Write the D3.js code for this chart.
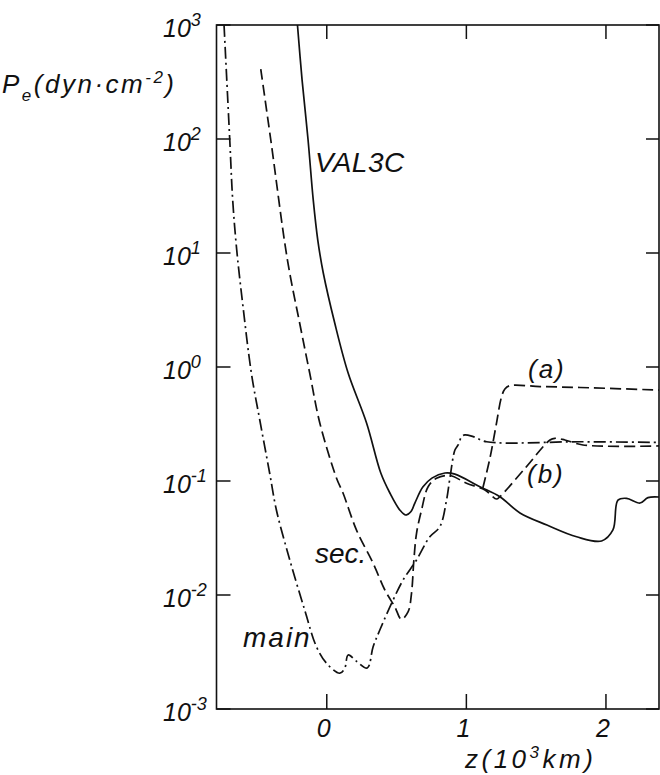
<!doctype html>
<html lang="en">
  <head>
    <meta charset="utf-8">
    <title>Pe versus z</title>
    <style>
      body { margin: 0; background: #fff; }
      svg { display: block; }
      text { font-family: "Liberation Sans", Arial, sans-serif; font-style: italic; fill: #111; }
    </style>
    <script src="https://cdn.jsdelivr.net/npm/d3@7"></script>
  </head>
  <body>
    <div id="chart"></div>
    <script>
      // values: z in 10^3 km, Pe in dyn cm^-2
      const valZ = [-0.21, -0.177, -0.134, -0.097, -0.0645, -0.025, 0.057, 0.153, 0.285, 0.387, 0.452, 0.523, 0.566, 0.602, 0.631, 0.688, 0.753, 0.846, 0.918, 1.097, 1.24, 1.384, 1.577, 1.79, 1.969, 2.05, 2.086, 2.148, 2.244, 2.301, 2.38];
      const valP = [1000, 330, 98, 29.2, 13.0, 6.68, 2.43, 0.885, 0.323, 0.1175, 0.0785, 0.0557, 0.0503, 0.0537, 0.0641, 0.0885, 0.106, 0.1175, 0.115, 0.0891, 0.0728, 0.0525, 0.0411, 0.0324, 0.0298, 0.0372, 0.068, 0.0705, 0.0641, 0.0715, 0.0724];

      // sec. run, continuing into branch (b)
      const secZ = [-0.473, -0.401, -0.282, -0.194, -0.122, -0.05, 0.07, 0.117, 0.213, 0.332, 0.416, 0.487, 0.535, 0.583, 0.607, 0.624, 0.643, 0.679, 0.726, 0.786, 0.882, 1.001, 1.133, 1.216, 1.24, 1.42, 1.599, 1.634, 1.706, 1.835, 2.38];
      const secP = [411, 98, 8.7, 2.42, 0.881, 0.323, 0.1057, 0.078, 0.0371, 0.019, 0.01106, 0.00789, 0.00612, 0.00714, 0.01035, 0.0203, 0.0348, 0.0557, 0.0891, 0.1057, 0.1117, 0.0955, 0.0834, 0.0695, 0.0728, 0.129, 0.229, 0.237, 0.229, 0.207, 0.203];

      // branch (a) leaving the sec. run
      const secAZ = [1.118, 1.168, 1.211, 1.252, 1.276, 1.312, 1.527, 1.814, 2.38];
      const secAP = [0.0869, 0.157, 0.298, 0.548, 0.641, 0.686, 0.674, 0.661, 0.628];

      const mainZ = [-0.736, -0.695, -0.674, -0.645, -0.6, -0.54, -0.48, -0.409, -0.361, -0.265, -0.158, -0.074, -0.002, 0.093, 0.129, 0.153, 0.215, 0.29, 0.332, 0.38, 0.475, 0.547, 0.643, 0.738, 0.81, 0.858, 0.882, 0.918, 0.941, 0.966, 0.989, 1.049, 1.145, 1.814, 2.38];
      const mainP = [1000, 98, 29.2, 10.6, 3.38, 0.881, 0.343, 0.117, 0.0557, 0.0203, 0.00738, 0.00352, 0.00252, 0.00206, 0.00228, 0.00298, 0.00261, 0.00229, 0.00352, 0.00493, 0.00904, 0.01355, 0.0203, 0.0324, 0.0397, 0.068, 0.1057, 0.187, 0.207, 0.245, 0.254, 0.245, 0.221, 0.221, 0.218];

      const yTickExps = [3, 2, 1, 0, -1, -2, -3];
      const xTicks = [0, 1, 2];

      const width = 660, height = 775;
      const plot = { left: 216.5, right: 659, top: 25, bottom: 709 };

      const x = d3.scaleLinear().domain([-0.79, 2.38]).range([plot.left, plot.right]);
      const y = d3.scaleLog().domain([1e-3, 1e3]).range([plot.bottom, plot.top]);

      const svg = d3.select("#chart").append("svg")
        .attr("width", width).attr("height", height);

      // frame: left, top, bottom and right lines
      svg.append("rect")
        .attr("x", plot.left).attr("y", plot.top)
        .attr("width", plot.right - plot.left).attr("height", plot.bottom - plot.top)
        .attr("fill", "none").attr("stroke", "#111").attr("stroke-width", 1.6);

      // inward ticks
      const ticks = svg.append("g").attr("stroke", "#111").attr("stroke-width", 1.5);
      yTickExps.forEach((e) => {
        const yy = y(Math.pow(10, e));
        ticks.append("line").attr("x1", plot.left).attr("x2", plot.left + 14).attr("y1", yy).attr("y2", yy);
        ticks.append("line").attr("x1", plot.right - 13).attr("x2", plot.right).attr("y1", yy).attr("y2", yy);
      });
      xTicks.forEach((t) => {
        ticks.append("line").attr("x1", x(t)).attr("x2", x(t)).attr("y1", plot.bottom).attr("y2", plot.bottom - 15);
        ticks.append("line").attr("x1", x(t)).attr("x2", x(t)).attr("y1", plot.top).attr("y2", plot.top + 14);
      });

      // y tick labels 10^n
      yTickExps.forEach((e) => {
        const t = svg.append("text")
          .attr("x", 163).attr("y", y(Math.pow(10, e)) + 12)
          .attr("font-size", 25);
        t.append("tspan").text("10");
        t.append("tspan").attr("font-size", 18).attr("dy", -11).text(String(e));
      });

      // x tick labels
      xTicks.forEach((t) => {
        svg.append("text")
          .attr("x", x(t) - 3).attr("y", 737)
          .attr("text-anchor", "middle").attr("font-size", 25)
          .text(String(t));
      });

      // axis titles
      const yt = svg.append("text").attr("x", 2).attr("y", 93)
        .attr("font-size", 26).attr("letter-spacing", 2.5);
      yt.append("tspan").text("P");
      yt.append("tspan").attr("font-size", 17).attr("dy", 8).text("e");
      yt.append("tspan").attr("dy", -8).text("(dyn\u00b7cm");
      yt.append("tspan").attr("font-size", 17).attr("dy", -10).text("-2");
      yt.append("tspan").attr("dy", 10).text(")");

      const xt = svg.append("text").attr("x", 465).attr("y", 768)
        .attr("font-size", 26).attr("letter-spacing", 3.5);
      xt.append("tspan").text("z(10");
      xt.append("tspan").attr("font-size", 17).attr("dy", -10).text("3");
      xt.append("tspan").attr("dy", 10).text("km)");

      // curves
      const line = d3.line()
        .x((d) => x(d[0]))
        .y((d) => y(d[1]))
        .curve(d3.curveCatmullRom.alpha(0.5));

      const series = [
        { z: valZ, p: valP, dash: null },
        { z: secZ, p: secP, dash: "11,5" },
        { z: secAZ, p: secAP, dash: "11,5" },
        { z: mainZ, p: mainP, dash: "12,4,2,4" },
      ];
      series.forEach((s) => {
        svg.append("path")
          .datum(d3.zip(s.z, s.p))
          .attr("d", line)
          .attr("fill", "none")
          .attr("stroke", "#111")
          .attr("stroke-width", 1.7)
          .attr("stroke-dasharray", s.dash);
      });

      // curve labels
      const labels = [
        { text: "VAL3C", x: 315, y: 172, size: 28, sp: 0.5 },
        { text: "sec.", x: 315, y: 563, size: 28, sp: 0 },
        { text: "main", x: 243, y: 647, size: 28, sp: 2 },
        { text: "(a)", x: 528, y: 378, size: 26, sp: 2 },
        { text: "(b)", x: 527, y: 483, size: 26, sp: 2 },
      ];
      labels.forEach((l) => {
        svg.append("text")
          .attr("x", l.x).attr("y", l.y)
          .attr("font-size", l.size).attr("letter-spacing", l.sp)
          .text(l.text);
      });
    </script>
  </body>
</html>
